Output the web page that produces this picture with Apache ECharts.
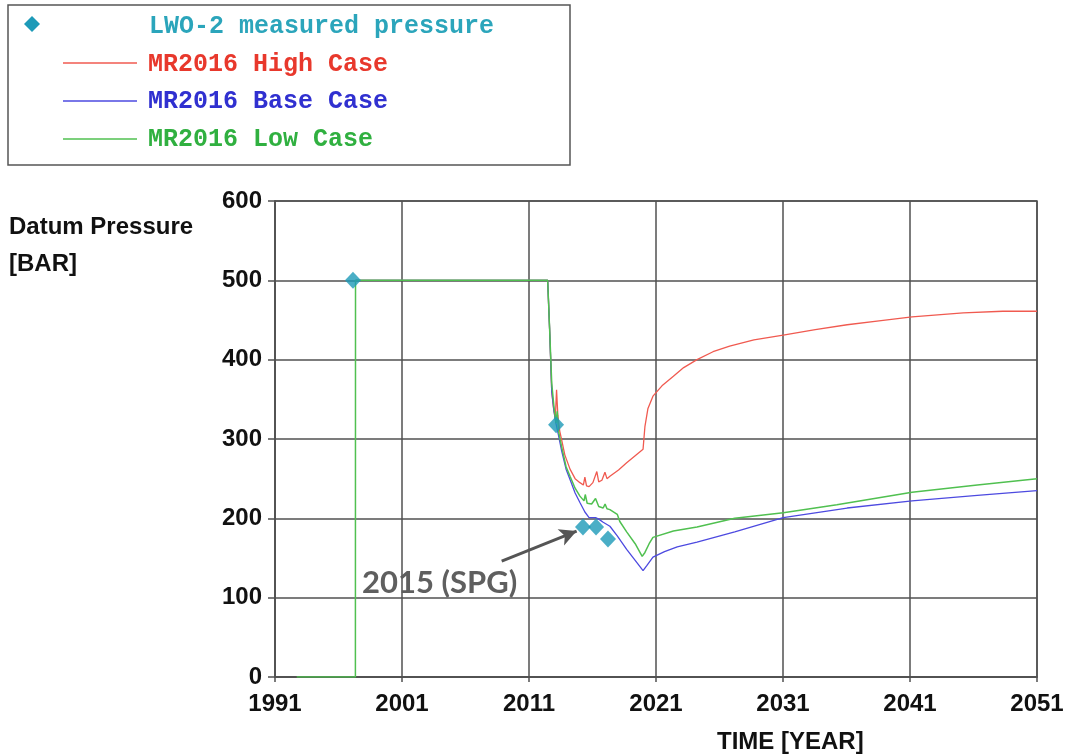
<!DOCTYPE html>
<html>
<head>
<meta charset="utf-8">
<script src="https://cdn.jsdelivr.net/npm/echarts@6/dist/echarts.min.js"></script>
<style>html,body{margin:0;padding:0;background:#fff}#c{width:1069px;height:755px}</style>
</head>
<body>
<div id="c"></div>
<script>
const baseYear = 1991;
const yearTicks = [1991, 2001, 2011, 2021, 2031, 2041, 2051];
const pressureTicks = [0, 100, 200, 300, 400, 500, 600];
const seriesNames = ['LWO-2 measured pressure', 'MR2016 High Case', 'MR2016 Base Case', 'MR2016 Low Case'];

const measured = [[1997.14, 500], [2013.13, 318], [2015.25, 189], [2016.28, 189], [2017.22, 174]];

const highCase = [[1997.36,500],[2012.47,500],[2012.62,440],[2012.79,360],[2012.92,340],[2013.07,325],
[2013.17,362],[2013.27,330],[2013.42,310],[2013.57,299],[2013.82,280],[2014.23,262],[2014.63,250],[2015.01,245],[2015.28,242],
[2015.4,252],[2015.53,241],[2015.73,240],[2016.03,245],[2016.34,259],[2016.49,246],[2016.74,248],[2016.98,258],[2017.14,250],
[2017.37,253],[2018.05,261],[2018.69,270],[2019.36,279],[2019.98,287],[2020.13,316],[2020.36,338],[2020.76,354],[2021.47,367],
[2022.37,379],[2023.18,390],[2024.23,400],[2025.49,410],[2026.8,417],[2028.71,425],[2031.02,431],[2033.54,438],[2036.05,444],
[2038.56,449],[2041.16,454],[2045.19,459],[2048.3,461],[2051,461]];

const baseCase = [[1997.36,500],[2012.47,500],[2012.62,440],[2012.79,360],[2012.97,335],[2013.12,320],
[2013.32,305],[2013.57,285],[2013.92,262],[2014.23,249],[2014.63,232],[2015.01,220],[2015.4,208],[2015.73,201],[2016.24,201],
[2016.49,199],[2016.84,195],[2017.37,190],[2017.95,178],[2018.69,161],[2019.36,147],[2019.98,134],[2020.26,140],[2020.76,151],
[2021.67,158],[2022.67,164],[2024.23,170],[2027.2,183],[2031.02,201],[2036.05,213],[2041.16,222],[2046.3,229],[2051,235]];

const lowCase = [[1992.71,0],[1997.33,0],[1997.34,500],[2012.47,500],[2012.62,440],[2012.79,370],[2012.97,340],[2013.12,320],
[2013.22,335],[2013.32,310],[2013.57,290],[2013.92,265],[2014.23,253],[2014.63,238],[2015.01,228],[2015.33,222],[2015.43,230],
[2015.58,219],[2015.93,218],[2016.24,225],[2016.49,215],[2016.84,213],[2016.99,218],[2017.14,212],[2017.37,211],[2017.95,205],
[2018.15,196],[2018.69,183],[2019.36,168],[2019.91,152],[2020.13,157],[2020.46,168],[2020.76,176],[2022.37,184],[2024.23,189],
[2027.2,200],[2031.02,207],[2035.24,217],[2041.16,233],[2046.3,242],[2051,250]];

const annotationText = '2015 (SPG)';
const arrowFrom = [2008.85, 146];
const arrowTo = [2014.75, 184];

const toX = d => d.map(p => [p[0] - baseYear, p[1]]);

const C_MEAS = '#1d9ab8', C_RED = '#f05a50', C_BLUE = '#4d4ae0', C_GREEN = '#50c050';
const T_MEAS = '#2ba5bb', T_RED = '#e8382c', T_BLUE = '#3030d0', T_GREEN = '#30b040';
const GRID = '#505050';
const monoFont = '"Courier New", "Liberation Mono", monospace';
const sansFont = 'Arial, "Liberation Sans", sans-serif';

const chart = echarts.init(document.getElementById('c'));
chart.setOption({
  animation: false,
  backgroundColor: '#fff',
  grid: { left: 275, right: 32, top: 201, bottom: 78, show: true, borderColor: GRID, borderWidth: 1.5, backgroundColor: 'transparent' },
  xAxis: {
    type: 'value', min: 0, max: yearTicks[yearTicks.length-1] - baseYear, interval: 10,
    offset: 5,
    axisLine: { show: true, lineStyle: { color: GRID, width: 1.5 } },
    axisTick: { show: true, length: 5, lineStyle: { color: GRID, width: 1.5 } },
    axisLabel: { margin: 10, fontFamily: sansFont, fontWeight: 'bold', fontSize: 24, color: '#111',
      formatter: v => String(v + baseYear) },
    splitLine: { show: true, lineStyle: { color: GRID, width: 1.5 } }
  },
  yAxis: {
    type: 'value', min: pressureTicks[0], max: pressureTicks[pressureTicks.length-1], interval: 100,
    offset: 4,
    axisLine: { show: true, lineStyle: { color: GRID, width: 1.5 } },
    axisTick: { show: true, length: 7, lineStyle: { color: GRID, width: 1.5 } },
    axisLabel: { margin: 9, fontFamily: sansFont, fontWeight: 'bold', fontSize: 24, color: '#111' },
    splitLine: { show: true, lineStyle: { color: GRID, width: 1.5 } }
  },
  series: [
    { name: seriesNames[1], type: 'line', data: toX(highCase), showSymbol: false, lineStyle: { color: C_RED, width: 1.3 }, z: 3 },
    { name: seriesNames[2], type: 'line', data: toX(baseCase), showSymbol: false, lineStyle: { color: C_BLUE, width: 1.3 }, z: 4 },
    { name: seriesNames[3], type: 'line', data: toX(lowCase), showSymbol: false, lineStyle: { color: C_GREEN, width: 1.5 }, z: 5 },
    { name: seriesNames[0], type: 'scatter', data: toX(measured), symbol: 'diamond', symbolSize: [16, 17],
      itemStyle: { color: C_MEAS }, z: 6,
      markLine: {
        silent: true, symbol: ['none', 'arrow'], symbolSize: [13, 17],
        lineStyle: { color: '#555', width: 3, type: 'solid' },
        label: { show: false },
        data: [[{ coord: [arrowFrom[0] - baseYear, arrowFrom[1]] }, { coord: [arrowTo[0] - baseYear, arrowTo[1]] }]]
      }
    }
  ],
  graphic: [
    { type: 'text', left: 362, top: 567, style: { text: annotationText, font: 'bold 31px Lato, "Open Sans", sans-serif', fill: '#5f5f5f' }, z: 20 },
    { type: 'text', left: 9, top: 215, style: { text: 'Datum Pressure', font: 'bold 24px ' + sansFont, fill: '#111' } },
    { type: 'text', left: 9, top: 252, style: { text: '[BAR]', font: 'bold 24px ' + sansFont, fill: '#111' } },
    { type: 'text', left: 717, top: 730, style: { text: 'TIME [YEAR]', font: 'bold 24px ' + sansFont, fill: '#111' } },
    { type: 'rect', shape: { x: 8, y: 5, width: 562, height: 160 }, style: { fill: '#fff', stroke: '#555', lineWidth: 1.5 }, z: 10 },
    { type: 'polygon', shape: { points: [[32, 16], [40, 24], [32, 32], [24, 24]] }, style: { fill: C_MEAS }, z: 11 },
    { type: 'text', x: 149, y: 27, style: { text: seriesNames[0], font: 'bold 25px ' + monoFont, fill: T_MEAS, verticalAlign: 'middle' }, z: 11 },
    { type: 'line', shape: { x1: 63, y1: 63, x2: 137, y2: 63 }, style: { stroke: C_RED, lineWidth: 1.3 }, z: 11 },
    { type: 'text', x: 148, y: 65, style: { text: seriesNames[1], font: 'bold 25px ' + monoFont, fill: T_RED, verticalAlign: 'middle' }, z: 11 },
    { type: 'line', shape: { x1: 63, y1: 101, x2: 137, y2: 101 }, style: { stroke: C_BLUE, lineWidth: 1.3 }, z: 11 },
    { type: 'text', x: 148, y: 102, style: { text: seriesNames[2], font: 'bold 25px ' + monoFont, fill: T_BLUE, verticalAlign: 'middle' }, z: 11 },
    { type: 'line', shape: { x1: 63, y1: 139, x2: 137, y2: 139 }, style: { stroke: C_GREEN, lineWidth: 1.3 }, z: 11 },
    { type: 'text', x: 148, y: 140, style: { text: seriesNames[3], font: 'bold 25px ' + monoFont, fill: T_GREEN, verticalAlign: 'middle' }, z: 11 }
  ]
});
</script>
</body>
</html>
